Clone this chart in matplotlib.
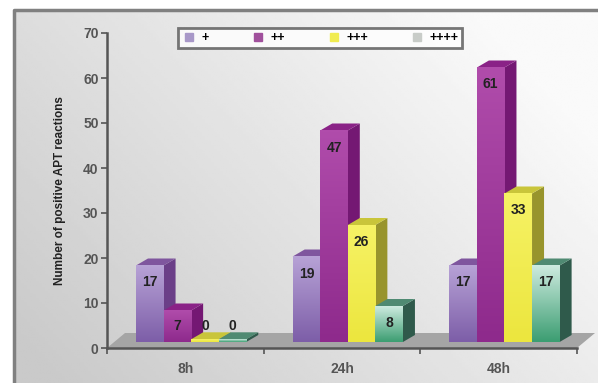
import numpy as np
import matplotlib
matplotlib.use("Agg")
import matplotlib.pyplot as plt
from matplotlib.patches import Polygon, Rectangle
from matplotlib.lines import Line2D
from matplotlib.colors import LinearSegmentedColormap

# ---- data ----
times = ["8h", "24h", "48h"]
grades = ["+", "++", "+++", "++++"]
plus1 = [17, 19, 17]
plus2 = [7, 47, 61]
plus3 = [0, 26, 33]
plus4 = [0, 8, 17]
series = [plus1, plus2, plus3, plus4]

# front (top, bottom), side, top colours
front_top = ["#b7a2d6", "#b04cab", "#f6f265", "#cdeadf"]
front_bot = ["#7d5ea8", "#8e2a8c", "#ece63e", "#3c9e72"]
side_col = ["#6b3f88", "#741873", "#98942c", "#2f5a4b"]
top_col = ["#7f569e", "#8a2287", "#c9c53a", "#4f8a72"]
legend_col = ["#a898c8", "#a0509c", "#f0ec50", "#c8ccc8"]

plt.rcParams["font.family"] = ["Liberation Sans Narrow", "Liberation Sans", "DejaVu Sans"]

W, H = 598, 383
fig = plt.figure(figsize=(W / 100, H / 100), dpi=100)

# ---- background ----
bg = fig.add_axes([0, 0, 1, 1], zorder=-10)
bg.set_xlim(0, W)
bg.set_ylim(H, 0)
bg.axis("off")
gx, gy = np.meshgrid(np.linspace(0, 1, 200), np.linspace(0, 1, 200))
grad = 0.79 + 0.19 * np.clip(0.75 * gx + 0.45 * (1 - gy) - 0.05, 0, 1)
bg.imshow(grad, cmap="gray", vmin=0, vmax=1, extent=[14, W, H, 10], aspect="auto")
bg.plot([14, 14, W], [H, 10, 10], color="#808080", lw=2.5, solid_capstyle="butt")

# ---- main axes ----
ax = fig.add_axes([107 / W, 35 / H, 470 / W, 315 / H])
ax.patch.set_visible(False)
PX = 3 / 470
PY = 70 / 315

# floor
fdx, fdy = 18 * PX, 15 * PY
floor = Polygon([(0, 0), (3, 0), (3 + fdx, fdy), (fdx, fdy)], closed=True,
                facecolor="#a5a5a5", edgecolor="none", zorder=1, clip_on=False)
ax.add_patch(floor)

bw = 0.176
oy = 6 * PY
ddx, ddy = 12 * PX, 7 * PY

for k in range(len(times)):
    for i, vals in enumerate(series):
        v = vals[k]
        x0 = k + 0.185 + i * bw
        x1 = x0 + bw
        y0 = oy
        y1 = oy + v if v > 0 else oy + 0.6
        z = 2 + k * 10 + i
        # side
        ax.add_patch(Polygon([(x1, y0), (x1 + ddx, y0 + ddy), (x1 + ddx, y1 + ddy), (x1, y1)],
                             facecolor=side_col[i], edgecolor="none", zorder=z, clip_on=False))
        # top
        ax.add_patch(Polygon([(x0, y1), (x1, y1), (x1 + ddx, y1 + ddy), (x0 + ddx, y1 + ddy)],
                             facecolor=top_col[i], edgecolor="none", zorder=z, clip_on=False))
        # front with gradient
        cmap = LinearSegmentedColormap.from_list("c%d" % i, [front_bot[i], front_top[i]])
        rect = Rectangle((x0, y0), bw, y1 - y0, facecolor="none", edgecolor="none",
                         transform=ax.transData)
        im = ax.imshow(np.linspace(0, 1, 64).reshape(-1, 1)[::-1], cmap=cmap,
                       extent=[x0, x1, y0, y1], aspect="auto", zorder=z + 0.5,
                       interpolation="bilinear", clip_on=False)
        im.set_clip_path(rect)
        # label
        ly = y1 - 17 * PY if v > 0 else oy + 3.5
        if v == 7:
            ly = y1 - 15 * PY
        ax.text((x0 + x1) / 2, ly, str(v), ha="center", va="center", fontsize=10,
                fontweight="bold", color="#222222", zorder=z + 1)

ax.set_xlim(0, 3)
ax.set_ylim(0, 70)
ax.set_yticks(range(0, 71, 10))
ax.set_xticks([0.5, 1.5, 2.5])
ax.set_xticklabels(times)
ax.set_xticks([0, 1, 2, 3], minor=True)
ax.tick_params(axis="y", direction="out", length=4, width=1.2, color="#555555",
               labelsize=10, labelcolor="#555555", pad=2)
ax.tick_params(axis="x", which="major", length=0, labelsize=10, labelcolor="#555555", pad=10)
ax.tick_params(axis="x", which="minor", direction="out", length=4, width=1.2, color="#555555")
for lab in ax.get_xticklabels() + ax.get_yticklabels():
    lab.set_fontweight("bold")
for s in ["top", "right"]:
    ax.spines[s].set_visible(False)
for s in ["left", "bottom"]:
    ax.spines[s].set_color("#555555")
    ax.spines[s].set_linewidth(1.8)
    ax.spines[s].set_zorder(50)
ax.set_ylabel("Number of positive APT reactions", fontsize=8.5, fontweight="bold",
              color="#222222", labelpad=12)

# legend
handles = [Line2D([], [], marker="s", linestyle="none", markersize=6,
                  markerfacecolor=legend_col[i], markeredgecolor=legend_col[i])
           for i in range(4)]
leg = fig.legend(handles, grades, ncol=4, loc="center", bbox_to_anchor=(320 / W, 1 - 38 / H),
                 frameon=True, fancybox=False, prop={"weight": "bold", "size": 9},
                 columnspacing=3.3, handletextpad=0.4, borderpad=0.3, handlelength=1.2)
leg.get_frame().set_edgecolor("#555555")
leg.get_frame().set_linewidth(2)
leg.get_frame().set_facecolor("white")

fig.savefig("out.png", dpi=100)
